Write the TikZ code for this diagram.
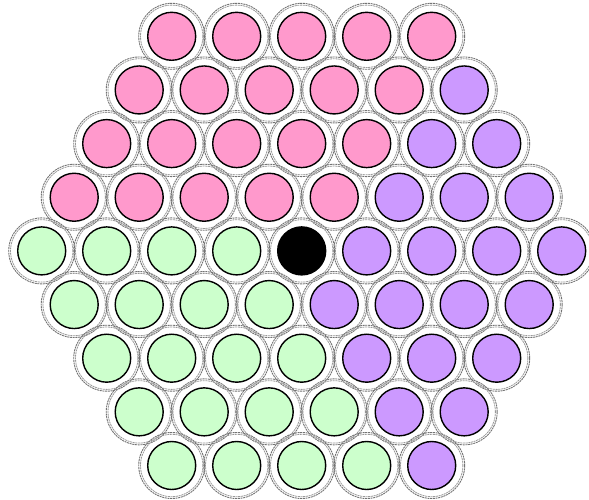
\documentclass[tikz,border=0pt]{standalone}
\definecolor{cP}{HTML}{FF99CC}
\definecolor{cU}{HTML}{CC99FF}
\definecolor{cG}{HTML}{CCFFCC}
\definecolor{cK}{HTML}{000000}
\tikzset{
  ringout/.style={circle, minimum size=66pt, inner sep=0pt, draw=black!55, line width=0.9pt, dash pattern=on 2pt off 0.7pt},
  ringin/.style={circle, minimum size=62.4pt, inner sep=0pt, draw=black!40, line width=0.8pt, dash pattern=on 2pt off 0.7pt},
  core/.style={circle, minimum size=48pt, inner sep=0pt, draw=black, line width=1.4pt},
}
\begin{document}
\begin{tikzpicture}[x=1pt,y=1pt]
\useasboundingbox (0,0) rectangle (589,499);
\foreach \r/\cl in {
  0/{cP,cP,cP,cP,cP},
  1/{cP,cP,cP,cP,cP,cU},
  2/{cP,cP,cP,cP,cP,cU,cU},
  3/{cP,cP,cP,cP,cP,cU,cU,cU},
  4/{cG,cG,cG,cG,cK,cU,cU,cU,cU},
  5/{cG,cG,cG,cG,cU,cU,cU,cU},
  6/{cG,cG,cG,cG,cU,cU,cU},
  7/{cG,cG,cG,cG,cU,cU},
  8/{cG,cG,cG,cG,cU}} {
  \foreach \c [count=\i from 0] in \cl {
    \pgfmathsetmacro\n{9-abs(\r-4)}
    \pgfmathsetmacro\xx{301.7+(\i-(\n-1)/2)*65}
    \pgfmathsetmacro\yy{499-36.3-\r*53.65}
    \node[ringout] (o-\r-\i) at (\xx,\yy) {};
    \node[ringin] (m-\r-\i) at (\xx,\yy) {};
    \node[core, fill=\c] (c-\r-\i) at (\xx,\yy) {};
  }
}
\end{tikzpicture}
\end{document}
